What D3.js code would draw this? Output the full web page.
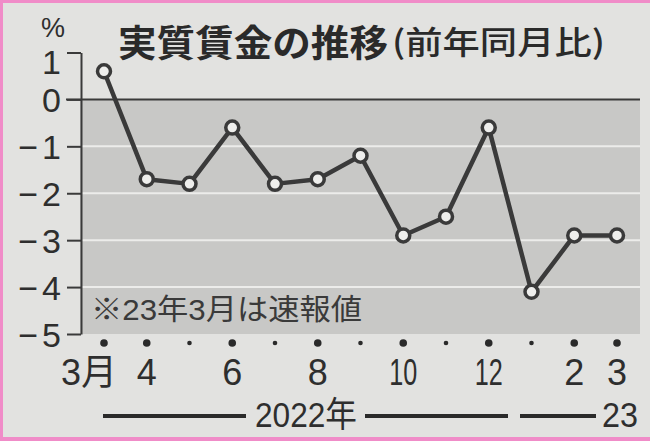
<!DOCTYPE html>
<html><head><meta charset="utf-8">
<script src="https://cdn.jsdelivr.net/npm/d3@7"></script>
<style>
html,body{margin:0;padding:0;background:#e2e2e0;}
svg{display:block;}
</style></head>
<body>
<script>
const months = ["3月","4","5","6","7","8","9","10","11","12","1","2","3"];
const showLabel = [true,true,false,true,false,true,false,true,false,true,false,true,true];
const bigDot = [true,true,false,true,false,true,false,true,false,true,false,true,true];
const values = [0.6,-1.7,-1.8,-0.6,-1.8,-1.7,-1.2,-2.9,-2.5,-0.6,-4.1,-2.9,-2.9];
const yTicks = [1,0,-1,-2,-3,-4,-5];
const titleMain = "実質賃金の推移";
const titleSub = "(前年同月比)";
const unitLabel = "%";
const note = "※23年3月は速報値";
const year1 = "2022年", year2 = "23";

const W = 650, H = 441;
const svg = d3.select("body").append("svg").attr("width", W).attr("height", H);
const jp = "'Noto Sans CJK JP','Noto Sans',sans-serif";
const lat = "'Liberation Sans','Noto Sans CJK JP',sans-serif";
const ink = "#2e2e2e";

svg.append("rect").attr("width", W).attr("height", H).attr("fill", "#e2e2e0");

const x = d3.scaleLinear().domain([0, months.length - 1]).range([104, 617]);
const y = d3.scaleLinear().domain([-5, 1]).range([334, 52.5]);

// gray panel below zero
svg.append("rect").attr("x", 80).attr("y", y(0)).attr("width", 640 - 80).attr("height", y(-5) - y(0))
  .attr("fill", "#c8c8c6");

// white gridlines
svg.append("g").selectAll("line").data(yTicks.filter(d => d < 0 && d > -5)).join("line")
  .attr("x1", 81).attr("x2", 640).attr("y1", d => y(d)).attr("y2", d => y(d))
  .attr("stroke", "#ececea").attr("stroke-width", 2);

// zero line
svg.append("line").attr("x1", 66).attr("x2", 640).attr("y1", y(0)).attr("y2", y(0))
  .attr("stroke", "#3a3a3a").attr("stroke-width", 2);

// y axis
const yAxis = d3.axisLeft(y).tickValues(yTicks).tickSize(14).tickSizeOuter(0).tickFormat(() => "");
const ga = svg.append("g").attr("transform", "translate(81,0)").call(yAxis);
ga.select(".domain").attr("stroke", "#3a3a3a").attr("stroke-width", 2);
ga.selectAll(".tick line").attr("stroke", "#3a3a3a").attr("stroke-width", 2);

// y tick labels
const yl = svg.append("g").selectAll("text").data(yTicks).join("text")
  .attr("x", 61).attr("y", d => d === 1 ? 74 : y(d) + 12.5)
  .attr("text-anchor", "end")
  .attr("font-family", lat).attr("font-size", 34).attr("fill", ink);
yl.each(function(d){
  const t = d3.select(this);
  if (d < 0) {
    t.append("tspan").text("\u2212");
    t.append("tspan").attr("dx", 4).text(Math.abs(d));
  } else t.text(d);
});

// unit
svg.append("text").attr("x", 41).attr("y", 37).attr("font-family", lat).attr("font-size", 27)
  .attr("fill", ink).text(unitLabel);

// title
svg.append("text").attr("x", 118).attr("y", 57).attr("font-family", jp).attr("font-weight", 700)
  .attr("font-size", 37).attr("fill", "#2a2a2a").attr("textLength", 270).attr("lengthAdjust", "spacingAndGlyphs")
  .text(titleMain);
svg.append("text").attr("x", 392).attr("y", 54).attr("font-family", jp).attr("font-weight", 500)
  .attr("font-size", 32).attr("fill", "#2a2a2a").attr("textLength", 213).attr("lengthAdjust", "spacingAndGlyphs")
  .text(titleSub);

// note
svg.append("text").attr("x", 91).attr("y", 320).attr("font-family", lat).attr("font-size", 29)
  .attr("fill", "#3a3a3a").attr("textLength", 271).attr("lengthAdjust", "spacingAndGlyphs").text(note);

// series line
const line = d3.line().x((d, i) => x(i)).y(d => y(d));
svg.append("path").datum(values).attr("d", line).attr("fill", "none")
  .attr("stroke", "#3a3a3a").attr("stroke-width", 4.5).attr("stroke-linejoin", "round");
svg.append("g").selectAll("circle").data(values).join("circle")
  .attr("cx", (d, i) => x(i)).attr("cy", d => y(d)).attr("r", 6.5)
  .attr("fill", "#eeeeec").attr("stroke", "#3a3a3a").attr("stroke-width", 3.5);

// x month dots
svg.append("g").selectAll("circle").data(months).join("circle")
  .attr("cx", (d, i) => x(i)).attr("cy", 343).attr("r", (d, i) => bigDot[i] ? 3.8 : 2.3)
  .attr("fill", "#2a2a2a");

// month labels
svg.append("g").selectAll("text").data(months.map((m, i) => ({m, i})).filter(d => showLabel[d.i])).join("text")
  .attr("x", d => d.i === 0 ? x(d.i) + 13 : x(d.i))
  .attr("y", 385)
  .attr("text-anchor", d => d.i === 0 ? "end" : "middle")
  .attr("font-family", lat).attr("font-size", 36).attr("fill", ink)
  .each(function(d){
    if (d.m.length === 2 && d.i !== 0) d3.select(this).attr("textLength", 28).attr("lengthAdjust", "spacingAndGlyphs");
  })
  .text(d => d.m);

// year lines
const yr = svg.append("g");
[[103, 246], [365, 508], [520, 596]].forEach(([a, b]) => {
  yr.append("line").attr("x1", a).attr("x2", b).attr("y1", 416).attr("y2", 416)
    .attr("stroke", "#2a2a2a").attr("stroke-width", 4);
});
yr.append("text").attr("x", 255).attr("y", 427).attr("font-family", lat).attr("font-size", 35)
  .attr("fill", ink).attr("textLength", 102).attr("lengthAdjust", "spacingAndGlyphs").text(year1);
yr.append("text").attr("x", 602).attr("y", 427).attr("font-family", lat).attr("font-size", 35)
  .attr("fill", ink).attr("textLength", 36).attr("lengthAdjust", "spacingAndGlyphs").text(year2);

// pink border
svg.append("rect").attr("x", 0).attr("y", 0).attr("width", 3).attr("height", H).attr("fill", "#f08cc8");
svg.append("rect").attr("x", 0).attr("y", 0).attr("width", W).attr("height", 3).attr("fill", "#f08cc8");
svg.append("rect").attr("x", 0).attr("y", 437).attr("width", W).attr("height", 4).attr("fill", "#f08cc8");
</script>
</body></html>
